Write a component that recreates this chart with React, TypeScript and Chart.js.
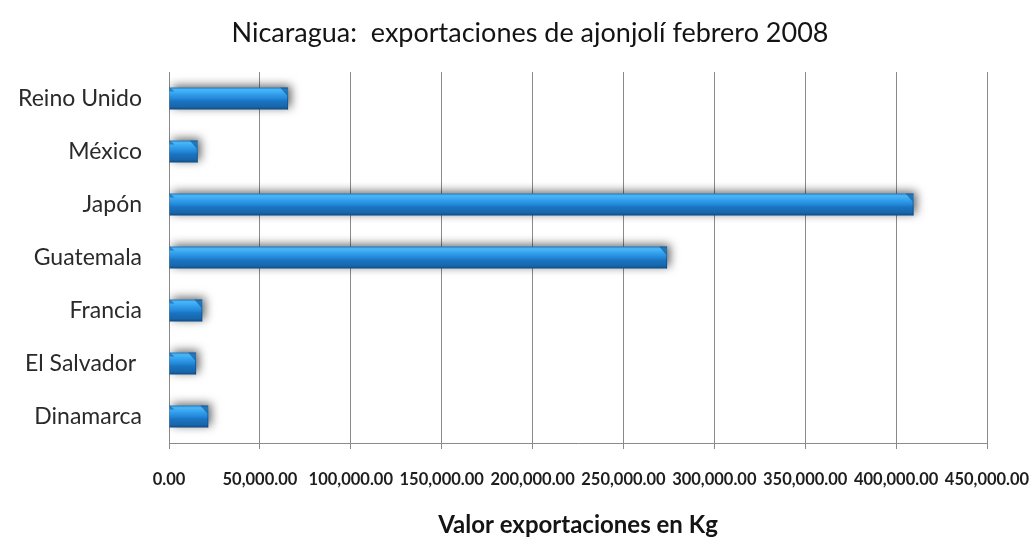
import React, { useEffect, useRef } from 'react';
import { Chart, registerables } from 'chart.js';

Chart.register(...registerables);

const categories = ['Reino Unido', 'México', 'Japón', 'Guatemala', 'Francia', 'El Salvador ', 'Dinamarca'];
const exportValues = [65500, 15800, 409600, 274000, 18300, 14900, 21600];
const xMin = 0;
const xMax = 450000;
const xStep = 50000;
const chartTitle = 'Nicaragua:  exportaciones de ajonjolí febrero 2008';
const xAxisTitle = 'Valor exportaciones en Kg';

const FONT = 'Lato, "Open Sans", sans-serif';
const BAR_PCT = 0.415;

const titlePlugin = {
  id: 'customTitles',
  afterDraw(chart: any) {
    const { ctx, chartArea } = chart;
    ctx.save();
    ctx.fillStyle = '#141414';
    ctx.textAlign = 'center';
    ctx.textBaseline = 'middle';
    ctx.font = `27px ${FONT}`;
    ctx.fillText(chartTitle, 530, 33);
    ctx.font = `bold 24px ${FONT}`;
    ctx.fillText(xAxisTitle, (chartArea.left + chartArea.right) / 2, 525);
    ctx.restore();
  },
};

const shadowPlugin = {
  id: 'barShadow',
  beforeDatasetsDraw(chart: any) {
    const ctx = chart.ctx;
    ctx.save();
    ctx.shadowColor = 'rgba(0,0,0,0.6)';
    ctx.shadowBlur = 10;
    ctx.shadowOffsetX = 3;
    ctx.shadowOffsetY = -2;
  },
  afterDatasetsDraw(chart: any) {
    const ctx = chart.ctx;
    ctx.restore();
    const meta = chart.getDatasetMeta(0);
    ctx.save();
    meta.data.forEach((el: any) => {
      const { x, y, base, height } = el.getProps(['x', 'y', 'base', 'height'], true);
      const top = y - height / 2;
      const bottom = y + height / 2;
      const right = Math.max(x, base);
      const left = Math.min(x, base);
      const bev = Math.min(8, (right - left) / 3);
      ctx.fillStyle = 'rgba(12,70,130,0.55)';
      ctx.beginPath();
      ctx.moveTo(right - bev, top);
      ctx.lineTo(right, top);
      ctx.lineTo(right, bottom);
      ctx.lineTo(right - 1, bottom);
      ctx.lineTo(right - 1, top + bev);
      ctx.closePath();
      ctx.fill();
      ctx.fillStyle = 'rgba(12,70,130,0.5)';
      ctx.beginPath();
      ctx.moveTo(left, top);
      ctx.lineTo(left + 5, top + 4);
      ctx.lineTo(left, top + 4);
      ctx.closePath();
      ctx.fill();
    });
    ctx.restore();
  },
};

function barGradient(c: any) {
  const chart = c.chart;
  const ys = chart.scales && chart.scales.y;
  const area = chart.chartArea;
  if (!ys || !area || c.dataIndex === undefined) return '#2a8ee0';
  const band = (area.bottom - area.top) / categories.length;
  const half = (band * BAR_PCT) / 2;
  const yc = ys.getPixelForValue(c.dataIndex);
  const g = chart.ctx.createLinearGradient(0, yc - half, 0, yc + half);
  g.addColorStop(0, '#2478c4');
  g.addColorStop(0.1, '#4ab8f8');
  g.addColorStop(0.3, '#33a0ec');
  g.addColorStop(0.5, '#2388da');
  g.addColorStop(0.62, '#1b74c0');
  g.addColorStop(0.88, '#1766ab');
  g.addColorStop(1, '#0e4a82');
  return g;
}

export default function App() {
  const ref = useRef<HTMLCanvasElement>(null);
  useEffect(() => {
    document.body.style.margin = '0';
    const canvas = ref.current;
    if (!canvas) return;
    const chart = new Chart(canvas, {
      type: 'bar',
      data: {
        labels: categories,
        datasets: [
          {
            data: exportValues,
            backgroundColor: barGradient as any,
            borderWidth: 0,
            barPercentage: BAR_PCT,
            categoryPercentage: 1,
          },
        ],
      },
      options: {
        indexAxis: 'y',
        responsive: false,
        animation: false,
        devicePixelRatio: 1,
        layout: { padding: { top: 72, right: 45, left: 0, bottom: 0 } },
        plugins: {
          legend: { display: false },
          title: { display: false },
          tooltip: { enabled: false },
        },
        scales: {
          x: {
            min: xMin,
            max: xMax,
            afterFit: (s: any) => {
              s.height = 94;
              s.paddingLeft = 0;
              s.paddingRight = 0;
            },
            ticks: {
              stepSize: xStep,
              autoSkip: false,
              maxRotation: 0,
              minRotation: 0,
              padding: 21,
              color: '#1e1e1e',
              font: { family: FONT, size: 16.5, weight: 'bold' },
              callback: (v: any) =>
                Number(v).toLocaleString('en-US', { minimumFractionDigits: 2, maximumFractionDigits: 2 }),
            },
            grid: { color: '#8a8a8a', lineWidth: 1, tickLength: 6, drawTicks: true },
            border: { display: true, color: '#8a8a8a', width: 1 },
          },
          y: {
            afterFit: (s: any) => {
              s.width = 169;
              s.paddingTop = 0;
              s.paddingBottom = 0;
            },
            ticks: {
              padding: 27,
              color: '#2a2a2a',
              font: { family: FONT, size: 23 },
            },
            grid: { display: false, drawTicks: false },
            border: { display: true, color: '#8a8a8a', width: 1 },
          },
        },
      },
      plugins: [shadowPlugin, titlePlugin],
    } as any);
    return () => chart.destroy();
  }, []);
  return (
    <div style={{ width: 1032, height: 537 }}>
      <canvas ref={ref} width={1032} height={537} style={{ display: 'block', width: 1032, height: 537 }} />
    </div>
  );
}
